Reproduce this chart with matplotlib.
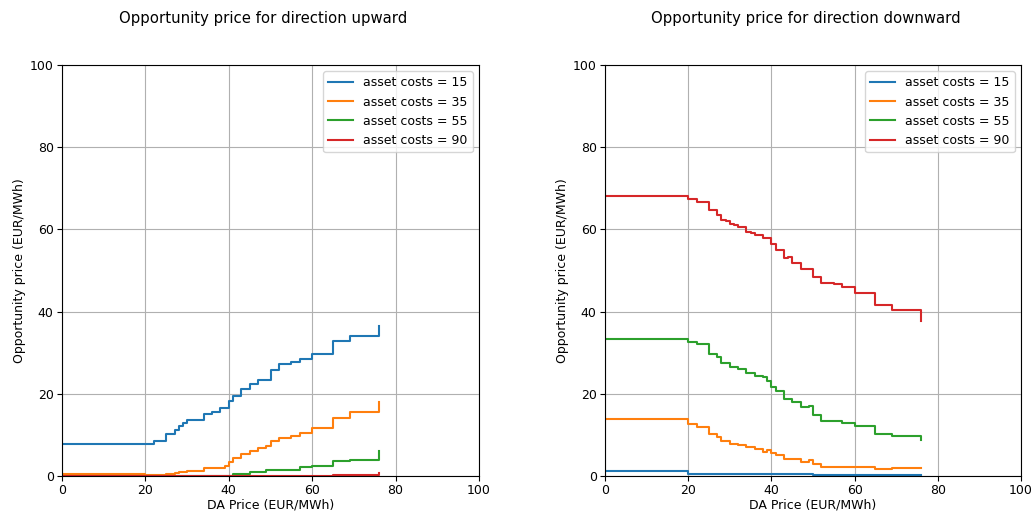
import matplotlib
matplotlib.use("Agg")
import matplotlib.pyplot as plt

# DA price breakpoints (EUR/MWh)
da_price = [0, 20, 22, 25, 27, 28, 29, 30, 31, 32, 34, 35, 36, 38, 39, 40, 41, 43, 44, 45,
            47, 49, 50, 52, 55, 57, 60, 65, 69, 76]

asset_costs = [15, 35, 55, 90]

# Opportunity price, direction upward
up_15 = [7.8, 7.8, 8.4, 10.3, 11.2, 12.2, 12.9, 13.6, 13.6, 13.6, 15.1, 15.1, 15.6, 16.6, 16.6,
         18.2, 19.5, 21.2, 21.2, 22.3, 23.4, 23.4, 25.8, 27.2, 27.7, 28.5, 29.7, 32.9, 34.0, 36.5]
up_35 = [0.4, 0.15, 0.15, 0.4, 0.8, 1.05, 1.05, 1.3, 1.3, 1.3, 1.9, 2.0, 2.0, 2.0, 2.4,
         3.4, 4.4, 5.3, 5.3, 6.1, 6.8, 7.3, 8.4, 9.2, 9.7, 10.5, 11.7, 14.2, 15.5, 18.0]
up_55 = [0, 0, 0, 0, 0, 0, 0, 0, 0, 0, 0.1, 0.1, 0.1, 0.1, 0.1,
         0.1, 0.6, 0.6, 0.6, 0.9, 0.9, 1.4, 1.4, 1.4, 1.4, 2.2, 2.5, 3.6, 4.0, 6.1]
up_90 = [0, 0, 0, 0, 0, 0, 0, 0, 0, 0, 0, 0, 0, 0, 0,
         0, 0, 0, 0, 0, 0, 0, 0, 0, 0, 0, 0, 0.25, 0.25, 0.8]

# Opportunity price, direction downward
down_15 = [1.3, 0.4, 0.4, 0.6, 0.4, 0.4, 0.4, 0.4, 0.4, 0.4, 0.4, 0.4, 0.4, 0.6, 0.4,
           0.4, 0.6, 0.4, 0.4, 0.4, 0.4, 0.4, 0.25, 0.25, 0.25, 0.25, 0.25, 0.25, 0.25, 0.3]
down_35 = [13.8, 12.6, 12.0, 10.1, 9.4, 8.6, 8.6, 7.7, 7.7, 7.5, 7.0, 7.0, 6.6, 5.9, 6.3,
           5.5, 5.2, 4.2, 4.2, 4.2, 3.5, 3.8, 2.8, 2.3, 2.3, 2.1, 2.1, 1.7, 1.9, 1.9]
down_55 = [33.3, 32.5, 32.0, 29.7, 28.9, 27.6, 27.6, 26.4, 26.4, 26.0, 25.1, 25.1, 24.3, 24.0, 23.0,
           21.7, 20.7, 18.8, 18.8, 18.1, 16.7, 17.0, 14.8, 13.4, 13.4, 13.0, 12.2, 10.2, 9.7, 8.7]
down_90 = [68.2, 67.4, 66.6, 64.7, 63.6, 62.4, 62.1, 61.4, 61.0, 60.6, 59.4, 59.1, 58.7, 57.8, 57.8,
           56.4, 55.1, 53.0, 53.3, 51.9, 50.4, 50.4, 48.3, 46.9, 46.6, 45.9, 44.5, 41.5, 40.4, 37.8]

up_series = [up_15, up_35, up_55, up_90]
down_series = [down_15, down_35, down_55, down_90]
colors = ["#1f77b4", "#ff7f0e", "#2ca02c", "#d62728"]

W, H = 1033, 515
fig = plt.figure(figsize=(W / 100, H / 100), dpi=100)

def px_axes(x0, x1, y0, y1):
    return fig.add_axes([x0 / W, 1 - y1 / H, (x1 - x0) / W, (y1 - y0) / H])

ax_up = px_axes(62, 479, 65, 476)
ax_down = px_axes(605, 1021, 65, 476)

for ax, series, title, tx in [(ax_up, up_series, "Opportunity price for direction upward", 263),
                              (ax_down, down_series, "Opportunity price for direction downward", 806)]:
    for cost, vals, c in zip(asset_costs, series, colors):
        ax.step(da_price, vals, where="post", color=c, linewidth=1.5,
                label=f"asset costs = {cost}")
    ax.set_xlim(0, 100)
    ax.set_ylim(0, 100)
    ax.set_xticks([0, 20, 40, 60, 80, 100])
    ax.set_yticks([0, 20, 40, 60, 80, 100])
    ax.grid(True, color="#b0b0b0", linewidth=0.8)
    ax.set_axisbelow(True)
    ax.tick_params(labelsize=9, pad=2.5)
    ax.set_xlabel("DA Price (EUR/MWh)", fontsize=9, labelpad=1)
    ax.set_ylabel("Opportunity price (EUR/MWh)", fontsize=9, labelpad=3)
    ax.legend(loc="upper right", fontsize=9)
    fig.text(tx / W, 1 - 18 / H, title, ha="center", va="center", fontsize=10.7)

fig.savefig("out.png", dpi=100)
